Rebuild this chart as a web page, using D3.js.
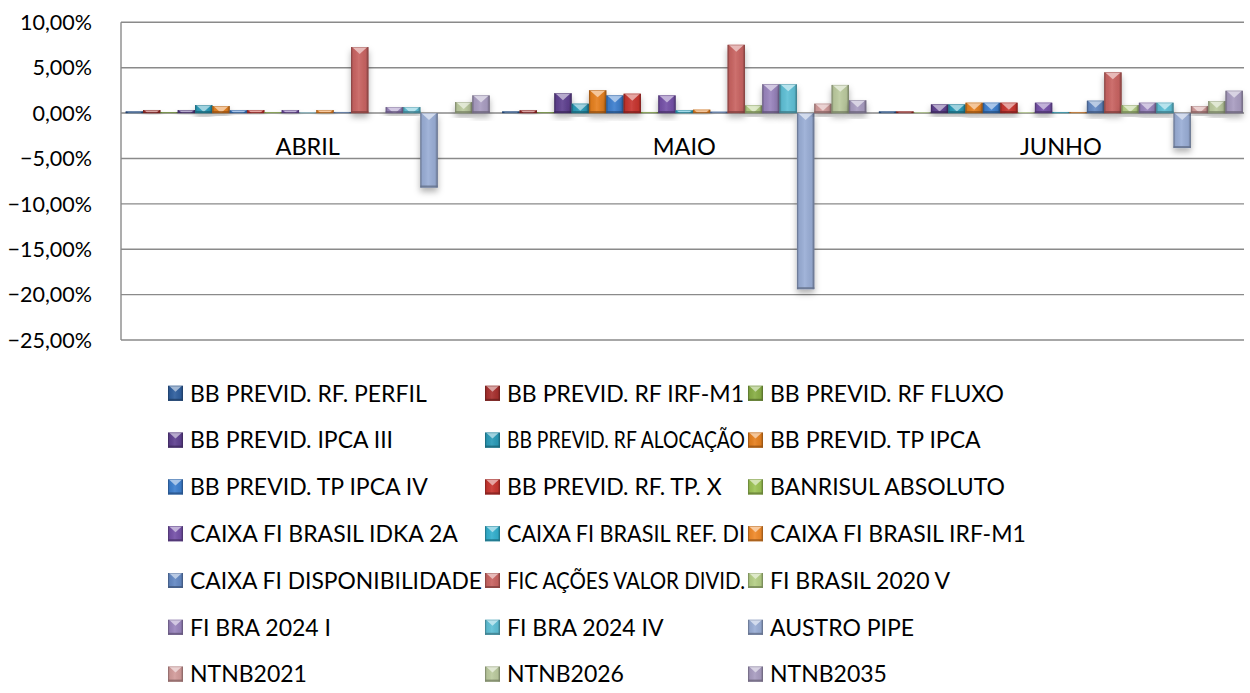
<!DOCTYPE html>
<html>
<head>
<meta charset="utf-8">
<script src="https://cdn.jsdelivr.net/npm/d3@7"></script>
<style>
  html, body { margin: 0; padding: 0; background: #fff; }
  svg { display: block; }
  text { font-family: Lato, "Open Sans", sans-serif; fill: #000; }
</style>
</head>
<body>
<svg id="chart" width="1250" height="693"></svg>
<script>
const categories = ["ABRIL", "MAIO", "JUNHO"];
const seriesNames = [
  "BB PREVID. RF. PERFIL", "BB PREVID. RF IRF-M1", "BB PREVID. RF FLUXO",
  "BB PREVID. IPCA III", "BB PREVID. RF ALOCAÇÃO", "BB PREVID. TP IPCA",
  "BB PREVID. TP IPCA IV", "BB PREVID. RF. TP. X", "BANRISUL ABSOLUTO",
  "CAIXA FI BRASIL IDKA 2A", "CAIXA FI BRASIL REF. DI", "CAIXA FI BRASIL IRF-M1",
  "CAIXA FI DISPONIBILIDADE", "FIC AÇÕES VALOR DIVID.", "FI BRASIL 2020 V",
  "FI BRA 2024 I", "FI BRA 2024 IV", "AUSTRO PIPE",
  "NTNB2021", "NTNB2026", "NTNB2035"
];
const seriesColors = [
  "#2F5F9E", "#A8302E", "#88AE45",
  "#5F4190", "#2A9BB8", "#E6801F",
  "#3D7FCF", "#C8352F", "#9DC455",
  "#7551A8", "#33B0CE", "#F08A2A",
  "#6489C4", "#C96462", "#B5CF86",
  "#9A85BE", "#5FC0D6", "#9AAED6",
  "#D39C9B", "#BCCB9F", "#A99DC1"
];
// values in %
const abrilValues = [0.18, 0.33, 0.10, 0.33, 0.88, 0.77, 0.30, 0.33, 0.10, 0.33, 0.03, 0.33, 0.12, 7.27, 0.00, 0.66, 0.66, -8.20, 0.00, 1.21, 1.94];
const maioValues  = [0.18, 0.30, 0.08, 2.17, 1.03, 2.50, 1.94, 2.13, 0.12, 1.94, 0.30, 0.37, 0.15, 7.52, 0.84, 3.16, 3.16, -19.40, 1.03, 3.10, 1.40];
const junhoValues = [0.18, 0.18, 0.05, 0.95, 0.95, 1.14, 1.14, 1.14, 0.05, 1.14, 0.12, 0.12, 1.36, 4.48, 0.88, 1.14, 1.14, -3.85, 0.77, 1.32, 2.46];
const yTicks = [10, 5, 0, -5, -10, -15, -20, -25];

const valuesByCategory = [abrilValues, maioValues, junhoValues];

const svg = d3.select("#chart");
const plotLeft = 121, plotRight = 1244, plotTop = 22.3, plotBottom = 340;

const y = d3.scaleLinear().domain([-25, 10]).range([plotBottom, plotTop]);
const x0 = d3.scaleBand().domain(categories).range([119.4, 1249.2]).paddingInner(0.0335).paddingOuter(0.0168);
const x1 = d3.scaleBand().domain(d3.range(seriesNames.length)).range([0, x0.bandwidth()]).padding(0);

const locale = d3.formatLocale({decimal: ",", thousands: ".", grouping: [3], currency: ["R$", ""]});
const fmt = locale.format(".2%");

const defs = svg.append("defs");
const shadow = defs.append("filter").attr("id", "shadow").attr("x", "-50%").attr("y", "-20%").attr("width", "200%").attr("height", "160%");
shadow.append("feDropShadow").attr("dx", 0).attr("dy", 4).attr("stdDeviation", 3)
  .attr("flood-color", "#000").attr("flood-opacity", 0.3);

const hg = defs.append("linearGradient").attr("id", "hgrad").attr("x1", 0).attr("x2", 1).attr("y1", 0).attr("y2", 0);
[[0, "#000", 0.35], [0.12, "#000", 0.05], [0.45, "#fff", 0.08], [0.85, "#000", 0.05], [1, "#000", 0.38]]
  .forEach(([o, c, op]) => hg.append("stop").attr("offset", o).attr("stop-color", c).attr("stop-opacity", op));

// grid lines
svg.append("g").selectAll("line").data(yTicks).join("line")
  .attr("x1", plotLeft).attr("x2", plotRight)
  .attr("y1", d => y(d)).attr("y2", d => y(d))
  .attr("stroke", "#8a8a8a").attr("stroke-width", 1.4);
svg.append("line").attr("x1", plotLeft).attr("x2", plotLeft).attr("y1", plotTop).attr("y2", plotBottom)
  .attr("stroke", "#8a8a8a").attr("stroke-width", 1.4);

// y tick labels
svg.append("g").selectAll("text").data(yTicks).join("text")
  .attr("x", 92).attr("y", d => y(d)).attr("dy", "0.36em")
  .attr("text-anchor", "end").attr("font-size", 21.5)
  .text(d => fmt(d / 100));

// category labels
svg.append("g").selectAll("text").data(categories).join("text")
  .attr("x", d => x0(d) + x0.bandwidth() / 2).attr("y", y(0) + 42)
  .attr("text-anchor", "middle").attr("font-size", 23.5)
  .text(d => d);

function mix(c, t, a) {
  const A = d3.rgb(c), B = d3.rgb(t);
  return d3.rgb(A.r + (B.r - A.r) * a, A.g + (B.g - A.g) * a, A.b + (B.b - A.b) * a).formatHex();
}

function drawBevel(g, bx, by, w, h, color) {
  if (h <= 0) return;
  g.append("rect").attr("x", bx).attr("y", by).attr("width", w).attr("height", h).attr("fill", color);
  g.append("rect").attr("x", bx).attr("y", by).attr("width", w).attr("height", h).attr("fill", "url(#hgrad)");
  const d = w * 0.4;
  let pts;
  if (h >= d) {
    pts = [[bx + 1, by], [bx + w - 1, by], [bx + w / 2, by + d]];
  } else {
    const hw = (w / 2 - 1) * (1 - h / d);
    pts = [[bx + 1, by], [bx + w - 1, by], [bx + w / 2 + hw, by + h], [bx + w / 2 - hw, by + h]];
  }
  g.append("polygon").attr("points", pts.map(p => p.join(",")).join(" ")).attr("fill", mix(color, "#fff", 0.55));
  const be = Math.min(2, h / 3);
  g.append("rect").attr("x", bx).attr("y", by + h - be).attr("width", w).attr("height", be).attr("fill", mix(color, "#000", 0.35)).attr("opacity", 0.8);
  g.append("rect").attr("x", bx + 0.3).attr("y", by + 0.3).attr("width", w - 0.6).attr("height", Math.max(0, h - 0.6))
    .attr("fill", "none").attr("stroke", mix(color, "#000", 0.3)).attr("stroke-width", 0.6).attr("opacity", 0.6);
}

// bars
const barsG = svg.append("g");
categories.forEach((cat, ci) => {
  const vals = valuesByCategory[ci];
  vals.forEach((v, si) => {
    const bx = x0(cat) + x1(si);
    const w = x1.bandwidth();
    const top = y(Math.max(0, v));
    const h = Math.abs(y(v) - y(0));
    const g = barsG.append("g").attr("filter", "url(#shadow)");
    drawBevel(g, bx, top, w, h, seriesColors[si]);
  });
});

// legend
const legendCols = [168, 485, 748];
const legendRow0 = 393.3, legendRowStep = 46.8;
const legend = svg.append("g");
seriesNames.forEach((name, i) => {
  const col = i % 3, row = Math.floor(i / 3);
  const lx = legendCols[col], ly = legendRow0 + row * legendRowStep;
  const g = legend.append("g");
  drawBevel(g, lx, ly - 7.5, 15, 15, seriesColors[i]);
  const t = legend.append("text").attr("x", lx + 22).attr("y", ly).attr("dy", "0.36em")
    .attr("font-size", 23).text(name);
  const maxW = col < 2 ? legendCols[col + 1] - (lx + 22) - 3 : 1250 - (lx + 22);
  const len = t.node().getComputedTextLength();
  if (len > maxW) t.attr("textLength", maxW).attr("lengthAdjust", "spacingAndGlyphs");
});
</script>
</body>
</html>
